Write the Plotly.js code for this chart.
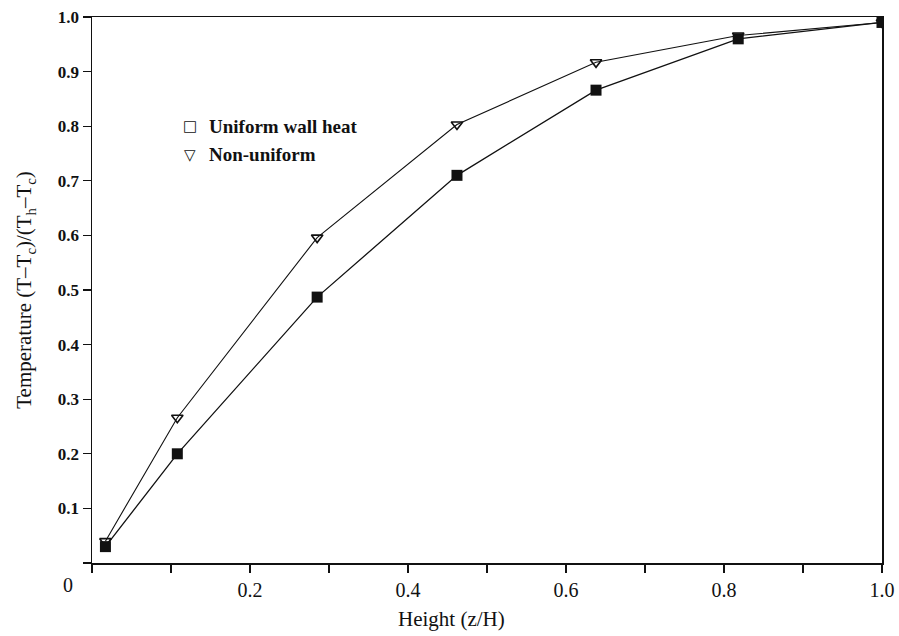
<!DOCTYPE html>
<html>
<head>
<meta charset="utf-8">
<script src="https://cdn.plot.ly/plotly-3.0.1.min.js"></script>
<style>html,body{margin:0;padding:0;background:#fff;}#chart{width:899px;height:636px;}</style>
</head>
<body>
<div id="chart"></div>
<script>
// Data
const height = [0.017, 0.108, 0.285, 0.462, 0.638, 0.818, 1.0];
const uniformWallHeat = [0.03, 0.2, 0.487, 0.71, 0.866, 0.96, 0.99];
const nonUniform = [0.04, 0.266, 0.596, 0.803, 0.917, 0.966, 0.99];

const xTickVals = [0.2, 0.4, 0.6, 0.8, 1.0];
const xTickText = ['0.2', '0.4', '0.6', '0.8', '1.0'];
const yTickVals = [0.1, 0.2, 0.3, 0.4, 0.5, 0.6, 0.7, 0.8, 0.9, 1.0];
const yTickText = ['0.1', '0.2', '0.3', '0.4', '0.5', '0.6', '0.7', '0.8', '0.9', '1.0'];
const legendLabels = ['Uniform wall heat', 'Non-uniform'];
const legendSymbols = ['\u25A1', '\u25BD'];

const serif = 'Liberation Serif, Times New Roman, serif';

const traces = [
  {
    x: height, y: nonUniform, mode: 'lines+markers', name: legendLabels[1],
    line: {color: '#111', width: 1.1},
    marker: {symbol: 'triangle-down-open', size: 10, color: '#111', line: {width: 1.6, color: '#111'}},
    showlegend: false
  },
  {
    x: height, y: uniformWallHeat, mode: 'lines+markers', name: legendLabels[0],
    line: {color: '#111', width: 1.3},
    marker: {symbol: 'square', size: 11, color: '#111'},
    showlegend: false
  }
];

const minorTicks = {tick0: 0, dtick: 0.1, ticks: 'outside', ticklen: 8, tickwidth: 1.2, tickcolor: '#111', showgrid: false};

const layout = {
  width: 899, height: 636,
  margin: {l: 92, r: 17, t: 17, b: 73},
  paper_bgcolor: '#fff', plot_bgcolor: '#fff',
  font: {family: serif, color: '#111'},
  xaxis: {
    range: [0, 1.0], showgrid: false, zeroline: false,
    showline: true, linecolor: '#111', linewidth: 1.5, mirror: true,
    ticks: 'outside', ticklen: 8, tickwidth: 1.2, tickcolor: '#111',
    tickmode: 'array', tickvals: xTickVals, ticktext: xTickText,
    tickfont: {family: serif, size: 20, color: '#111'},
    minor: minorTicks
  },
  yaxis: {
    range: [0, 1.0], showgrid: false, zeroline: false,
    showline: true, linecolor: '#111', linewidth: 1.5, mirror: true,
    ticks: 'outside', ticklen: 8, tickwidth: 1.2, tickcolor: '#111',
    tickmode: 'array', tickvals: yTickVals, ticktext: yTickText.map(t => '<b>' + t + '</b>'),
    tickfont: {family: serif, size: 17, color: '#111'},
    minor: minorTicks,
    title: {text: 'Temperature (T\u2013T<sub>c</sub>)/(T<sub>h</sub>\u2013T<sub>c</sub>)', font: {family: serif, size: 21, color: '#111'}, standoff: 20}
  },
  annotations: [
    {xref: 'paper', yref: 'paper', x: -0.03, y: -0.04, xanchor: 'center', yanchor: 'middle',
     text: '0', showarrow: false, font: {family: serif, size: 20, color: '#111'}},
    {xref: 'paper', yref: 'paper', x: 0.455, y: -0.103, xanchor: 'center', yanchor: 'middle',
     text: 'Height (z/H)', showarrow: false, font: {family: serif, size: 21, color: '#111'}},
    {xref: 'paper', yref: 'paper', x: 0.124, y: 0.80, xanchor: 'center', yanchor: 'middle',
     text: legendSymbols[0], showarrow: false, font: {family: 'DejaVu Sans', size: 15, color: '#111'}},
    {xref: 'paper', yref: 'paper', x: 0.146, y: 0.80, xanchor: 'left', yanchor: 'middle',
     text: '<b>' + legendLabels[0] + '</b>', showarrow: false, font: {family: serif, size: 19, color: '#111'}},
    {xref: 'paper', yref: 'paper', x: 0.124, y: 0.748, xanchor: 'center', yanchor: 'middle',
     text: legendSymbols[1], showarrow: false, font: {family: 'DejaVu Sans', size: 15, color: '#111'}},
    {xref: 'paper', yref: 'paper', x: 0.146, y: 0.748, xanchor: 'left', yanchor: 'middle',
     text: '<b>' + legendLabels[1] + '</b>', showarrow: false, font: {family: serif, size: 19, color: '#111'}}
  ]
};

Plotly.newPlot('chart', traces, layout, {displayModeBar: false, staticPlot: true});
</script>
</body>
</html>
